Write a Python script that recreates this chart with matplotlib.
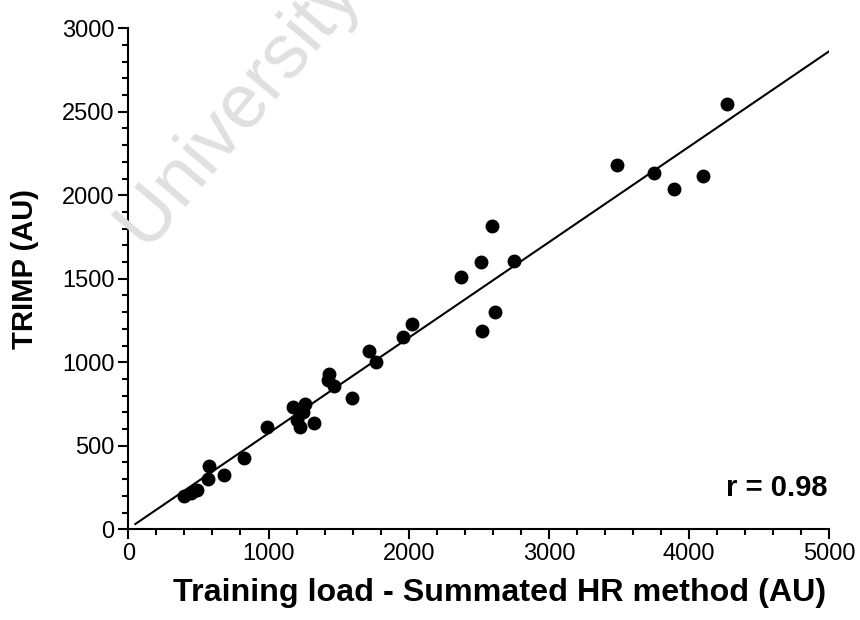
import numpy as np
import matplotlib
matplotlib.use("Agg")
from matplotlib import pyplot as plt
from matplotlib.ticker import MultipleLocator

plt.rcParams['font.family'] = ['Liberation Sans', 'DejaVu Sans']

# Summated HR training load vs TRIMP
hr_load = [400, 450, 490, 571, 578, 683, 825, 987, 1175, 1201, 1225, 1244,
           1262, 1325, 1424, 1429, 1469, 1593, 1719, 1767, 1957, 2021, 2373,
           2516, 2525, 2594, 2616, 2753, 3488, 3752, 3895, 4101, 4268]
trimp = [200, 215, 236, 302, 380, 328, 426, 612, 730, 656, 610, 702,
         752, 638, 892, 930, 856, 784, 1068, 1004, 1152, 1228, 1510,
         1600, 1190, 1818, 1302, 1606, 2180, 2136, 2036, 2118, 2544]

# regression line as drawn
fit_slope = 0.572
fit_intercept = 3.0
fit_x = [50, 5000]
r_text = "r = 0.98"

fig = plt.figure(figsize=(8.6, 6.2), dpi=100)
ax = fig.add_axes([0.1492, 0.1463, 0.8151, 0.8081])
ax.patch.set_alpha(0)

# faint watermark behind the plot (runs off the top edge, as in the source)
fig.text(0.172, 0.592, "University of Cape Town", fontsize=55, color="#e0e0e0",
         rotation=50, rotation_mode="anchor", ha="left", va="baseline", zorder=0)

fx = np.array(fit_x)
ax.plot(fx, fit_intercept + fit_slope * fx, color="black", lw=1.5, zorder=2)
ax.plot(hr_load, trimp, "o", color="black", ms=9, zorder=3)

ax.set_xlim(0, 5000)
ax.set_ylim(0, 3000)
ax.xaxis.set_major_locator(MultipleLocator(1000))
ax.xaxis.set_minor_locator(MultipleLocator(200))
ax.yaxis.set_major_locator(MultipleLocator(500))
ax.yaxis.set_minor_locator(MultipleLocator(100))

for side in ["top", "right"]:
    ax.spines[side].set_visible(False)
for side in ["left", "bottom"]:
    ax.spines[side].set_linewidth(1.5)
ax.tick_params(which="major", length=7, width=1.5, labelsize=17, pad=3)
ax.tick_params(which="minor", length=4.5, width=1.5)

ax.set_xlabel("Training load - Summated HR method (AU)", fontsize=23.2,
              fontweight="bold")
ax.xaxis.set_label_coords(0.53, -0.098)
ax.set_ylabel("TRIMP (AU)", fontsize=21, fontweight="bold")
ax.yaxis.set_label_coords(-0.128, 0.52)

ax.text(0.998, 0.083, r_text, transform=ax.transAxes, ha="right", va="center",
        fontsize=21, fontweight="bold")

fig.savefig("out.png", dpi=100)
